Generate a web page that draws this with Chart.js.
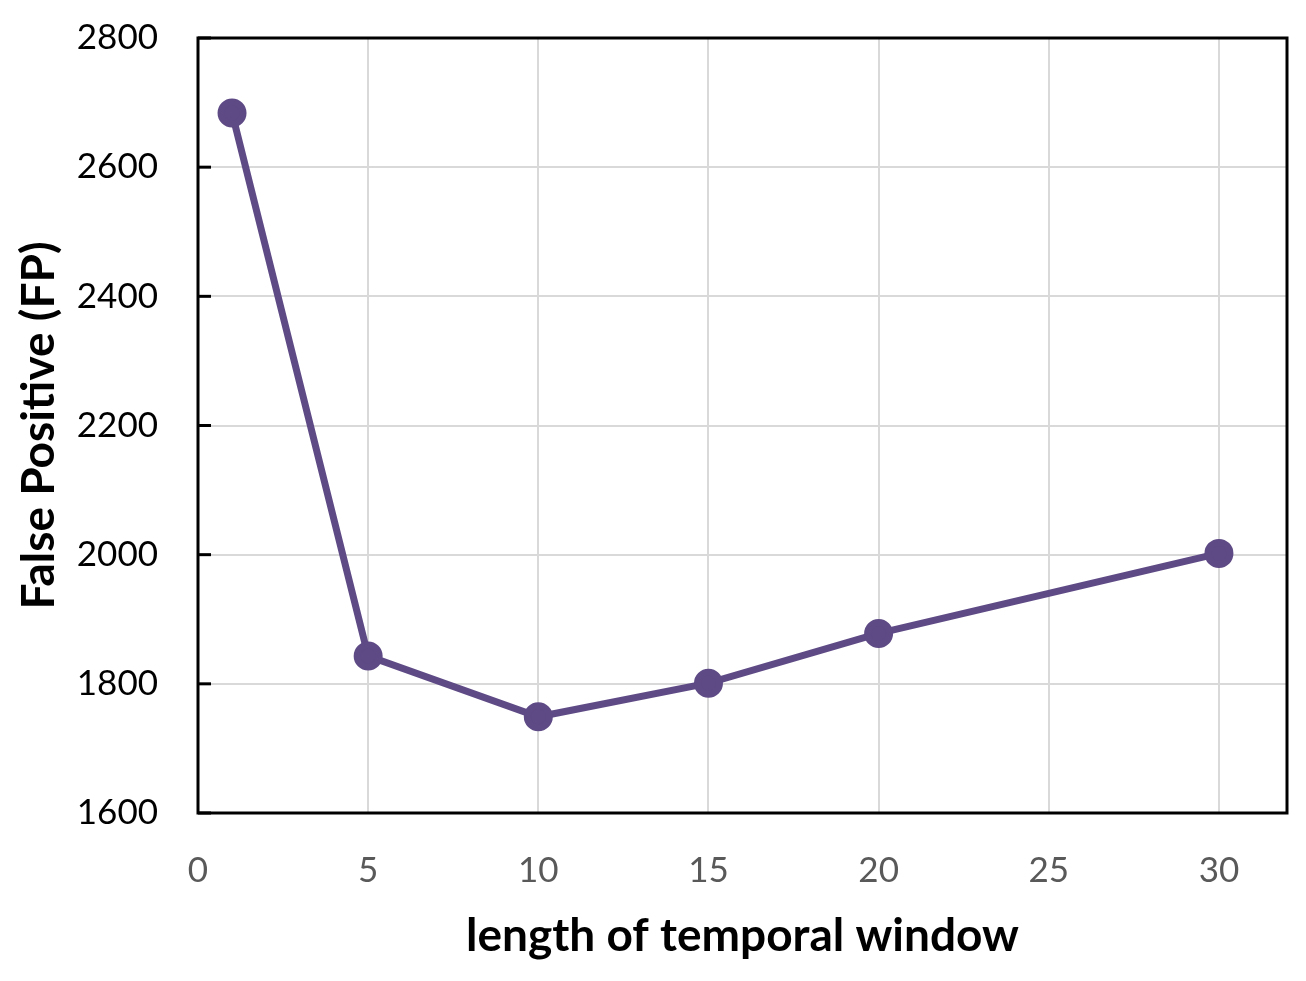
<!DOCTYPE html>
<html>
<head>
<meta charset="utf-8">
<script src="https://cdn.jsdelivr.net/npm/chart.js@4"></script>
<style>
  html, body { margin: 0; padding: 0; background: #fff; }
  #wrap { width: 1306px; height: 981px; }
</style>
</head>
<body>
<div id="wrap"><canvas id="fp-chart" width="1306" height="981"></canvas></div>
<script>
// window lengths and false positive counts
const windowLengths = [1, 5, 10, 15, 20, 30];
const falsePositives = [2684, 1843, 1749, 1801, 1878, 2002];
const xTickValues = [0, 5, 10, 15, 20, 25, 30];
const yTickValues = [1600, 1800, 2000, 2200, 2400, 2600, 2800];

const points = windowLengths.map((x, i) => ({ x: x, y: falsePositives[i] }));

// short black tick marks drawn inward on the y axis, plus the frame
const framePlugin = {
  id: "frame",
  afterDraw(chart) {
    const ctx = chart.ctx;
    const a = chart.chartArea;
    const y = chart.scales.y;
    ctx.save();
    ctx.strokeStyle = "#000";
    ctx.lineWidth = 3;
    yTickValues.forEach((v) => {
      const py = y.getPixelForValue(v);
      ctx.beginPath();
      ctx.moveTo(a.left, py);
      ctx.lineTo(a.left + 13, py);
      ctx.stroke();
    });
    ctx.strokeRect(a.left, a.top, a.right - a.left, a.bottom - a.top);
    ctx.restore();
  },
};

new Chart(document.getElementById("fp-chart"), {
  type: "line",
  data: {
    datasets: [
      {
        data: points,
        borderColor: "#5e4a85",
        backgroundColor: "#5e4a85",
        borderWidth: 7,
        pointRadius: 11,
        pointHoverRadius: 11,
        tension: 0,
      },
    ],
  },
  options: {
    responsive: false,
    animation: false,
    layout: { padding: { top: 38, right: 19, left: 0, bottom: 0 } },
    plugins: {
      legend: { display: false },
      tooltip: { enabled: false },
    },
    scales: {
      x: {
        type: "linear",
        min: 0,
        max: 32,
        afterBuildTicks: (s) => {
          s.ticks = xTickValues.map((v) => ({ value: v }));
        },
        grid: { color: "#d9d9d9", lineWidth: 2, drawTicks: false },
        border: { display: false },
        ticks: {
          color: "#595959",
          font: { family: "Lato", size: 35 },
          padding: 37,
          callback: (v) => String(v),
        },
        title: {
          display: true,
          text: "length of temporal window",
          color: "#000",
          font: { family: "Lato", size: 46, weight: "bold" },
          padding: { top: 8, bottom: 17 },
        },
        afterFit: (s) => {
          s.height = 981 - 813;
        },
      },
      y: {
        min: 1600,
        max: 2800,
        afterBuildTicks: (s) => {
          s.ticks = yTickValues.map((v) => ({ value: v }));
        },
        grid: { color: "#d9d9d9", lineWidth: 2, drawTicks: false },
        border: { display: false },
        ticks: {
          color: "#000",
          font: { family: "Lato", size: 35 },
          padding: 40,
          callback: (v) => String(v),
        },
        title: {
          display: true,
          text: "False Positive (FP)",
          color: "#000",
          font: { family: "Lato", size: 46, weight: "bold" },
          padding: { top: 12, bottom: 10 },
        },
        afterFit: (s) => {
          s.width = 198;
          s.paddingTop = 0;
          s.paddingBottom = 0;
        },
      },
    },
  },
  plugins: [framePlugin],
});
</script>
</body>
</html>
